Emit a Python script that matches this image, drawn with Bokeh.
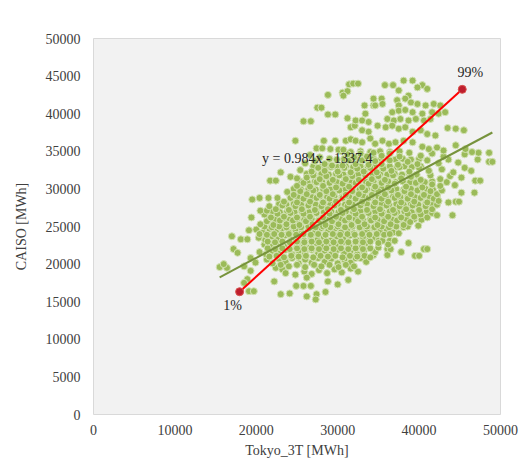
from bokeh.plotting import figure
from bokeh.models import Range1d, FixedTicker, NumeralTickFormatter, Label
from bokeh.embed import file_html
from bokeh.resources import INLINE

# Hourly generation pairs for August 2016: (Tokyo_3T MWh, CAISO MWh)
caiso_above_35k = [
    (31400, 43900), (31900, 44000), (32500, 44000), (28800, 42500), (30600, 42800), (31200, 43000),
    (30700, 42400), (27500, 40800), (28000, 40800), (28800, 39900), (29700, 39900), (25800, 39000),
    (26700, 39000), (31200, 39400), (31600, 38200), (32100, 38400), (24800, 36400), (28300, 36400),
    (29700, 36400), (31000, 36400), (31600, 36600), (27400, 35400), (28100, 35400), (29100, 35300),
    (30100, 35200), (30700, 35200), (33300, 41100), (34400, 41100),
    (35800, 43800), (36800, 43800), (38100, 44400), (39200, 44400), (40400, 43800),
    (34400, 42000), (35400, 42000), (37500, 43100), (38700, 42400), (39800, 43500), (41000, 43300),
    (34600, 41100), (35500, 41300), (37300, 41800), (37500, 41100), (38300, 42000), (39000, 41500),
    (39800, 41300), (40800, 41100), (41800, 41300), (42600, 41100),
    (32200, 39100), (33000, 39100), (33800, 38900), (33400, 40000), (36700, 40200), (37500, 40400),
    (38300, 40500), (39200, 40200), (40400, 40000), (41600, 40200), (42400, 40000), (43200, 40200),
    (36100, 39300), (36900, 39100), (37700, 39300), (38700, 39100), (39600, 39300), (40600, 39100),
    (41400, 39300),
    (34900, 38400), (35900, 38200), (36700, 38400), (37500, 38000), (38300, 38200), (39200, 37600),
    (40200, 37800), (41000, 37300), (42000, 37100), (43500, 38100), (44500, 38000), (45500, 37800),
    (33000, 37800), (33800, 37600),
    (32200, 36400), (33000, 36200), (34000, 36700), (34600, 36000), (35500, 36400), (36300, 36000),
    (37100, 36200), (38100, 36400), (39200, 36200), (40400, 35600), (41200, 35300), (42200, 35500),
    (43000, 35100), (44500, 35800), (45700, 35300), (46500, 34900),
]

caiso_15k_25k = [
    (19100, 16400), (19700, 16400), (23000, 16000), (24100, 16100), (26200, 15700), (27400, 16000),
    (27300, 15300), (28500, 16300),
    (18900, 18000), (18500, 17500), (22200, 17700), (24900, 17100), (25800, 17100), (26700, 17100),
    (28800, 17700), (30000, 17300), (31300, 17900),
    (15500, 19600), (16400, 19500), (19300, 19100), (18500, 19700), (22400, 19500), (23200, 19300),
    (23600, 18800), (24800, 18600), (25900, 19000), (26800, 18700), (27700, 19200), (28700, 18800),
    (29600, 19300), (30500, 18900), (31600, 19400), (32500, 19000), (26200, 18200),
    (16000, 20000), (19300, 20800), (19900, 20200), (21300, 20600), (22000, 20100), (22800, 20700),
    (23600, 20300), (24400, 20800), (25200, 20100), (26000, 20600), (26800, 20200), (27600, 20800),
    (28400, 20300), (29200, 20700), (30000, 20100), (30800, 20600), (31600, 20200), (32200, 20800),
    (32800, 20800), (33500, 20300),
    (17200, 22000), (17700, 21500), (20400, 21600), (21200, 21300), (22000, 21800), (22800, 21400),
    (23600, 21900), (24400, 21300), (25200, 21800), (26000, 21400), (26800, 21900), (27600, 21400),
    (28400, 21800), (29200, 21300), (30000, 21900), (30800, 21400), (31600, 21800), (32400, 21300),
    (33200, 21700), (34400, 21200), (34600, 21600), (36100, 22000), (36100, 21200), (36500, 22000),
    (37800, 21600), (39500, 21100), (40000, 21100), (40600, 22000), (41000, 22000),
    (21000, 22600), (21800, 22300), (22600, 22800), (23400, 22400), (24200, 22900), (25000, 22300),
    (25800, 22700), (26600, 22200), (27400, 22800), (28200, 22300), (29000, 22800), (29800, 22400),
    (30600, 22900), (31400, 22400), (32200, 22800), (33000, 22300), (33800, 22700), (38700, 22800),
    (17000, 23700), (18100, 23300), (18900, 23300), (20300, 23500), (21100, 23200), (21900, 23700),
    (22700, 23300), (23500, 23800), (24300, 23200), (25100, 23600), (25900, 23100), (26700, 23700),
    (27500, 23200), (28300, 23600), (29100, 23100), (29900, 23700), (30700, 23300), (31500, 23800),
    (32300, 23200), (33100, 23600), (33900, 23200), (34600, 23500), (35000, 23100), (35500, 23100),
    (36400, 23100), (37000, 23100),
    (19100, 24500), (20000, 24600), (20800, 24200), (21600, 24700), (22400, 24300), (23200, 24800),
    (24000, 24200), (24800, 24600), (25600, 24100), (26400, 24700), (27200, 24200), (28000, 24800),
    (28800, 24300), (29600, 24700), (30400, 24200), (31200, 24600), (32000, 24100), (32800, 24700),
    (33600, 24300), (34400, 24800), (35200, 24300), (36000, 24600), (36800, 24200), (37500, 24100),
]

caiso_25k_35k = [
    (20500, 25300), (21300, 25700), (22100, 25200), (22900, 25800), (23700, 25300), (24500, 25800),
    (25300, 25200), (26100, 25700), (26900, 25300), (27700, 25800), (28500, 25200), (29300, 25700),
    (30100, 25300), (30900, 25800), (31700, 25200), (32500, 25700), (33300, 25300), (34100, 25800),
    (34900, 25200), (35700, 25700), (36500, 25300), (37300, 25800), (38100, 25200), (38900, 25600),
    (39900, 25100),
    (19400, 26200), (21000, 26600), (21800, 26200), (22600, 26700), (23400, 26300), (24200, 26800),
    (25000, 26200), (25800, 26700), (26600, 26300), (27400, 26800), (28200, 26200), (29000, 26700),
    (29800, 26300), (30600, 26800), (31400, 26200), (32200, 26700), (33000, 26300), (33800, 26800),
    (34600, 26200), (35400, 26700), (36200, 26300), (37000, 26800), (37800, 26200), (38600, 26700),
    (39400, 26300), (40200, 26600), (41000, 26200), (41600, 26800), (42200, 26500), (44100, 26500),
    (20500, 27100), (21300, 27100), (21600, 27700), (22400, 27300), (23200, 27800), (24000, 27200),
    (24800, 27700), (25600, 27300), (26400, 27800), (27200, 27200), (28000, 27700), (28800, 27300),
    (29600, 27800), (30400, 27200), (31200, 27700), (32000, 27300), (32800, 27800), (33600, 27200),
    (34400, 27700), (35200, 27300), (36000, 27800), (36800, 27200), (37600, 27700), (38400, 27300),
    (39200, 27800), (40000, 27200), (40800, 27700), (41600, 27300), (42200, 27900),
    (19500, 28600), (20400, 28800), (21500, 28800), (22600, 28800), (23400, 28300), (24200, 28800),
    (25000, 28200), (25800, 28700), (26600, 28300), (27400, 28800), (28200, 28200), (29000, 28700),
    (29800, 28300), (30600, 28800), (31400, 28200), (32200, 28700), (33000, 28300), (33800, 28800),
    (34600, 28200), (35400, 28700), (36200, 28300), (37000, 28800), (37800, 28200), (38600, 28700),
    (39400, 28300), (40200, 28800), (41000, 28200), (41800, 28700), (42400, 28400), (43600, 28200),
    (44500, 28300), (44900, 28300),
    (23800, 29600), (24600, 29200), (25400, 29700), (26200, 29300), (27000, 29800), (27800, 29200),
    (28600, 29700), (29400, 29300), (30200, 29800), (31000, 29200), (31800, 29700), (32600, 29300),
    (33400, 29800), (34200, 29200), (35000, 29700), (35800, 29300), (36600, 29800), (37400, 29200),
    (38200, 29700), (39000, 29300), (39800, 29800), (40600, 29200), (41400, 29700), (42200, 29300),
    (42800, 29800), (45200, 29500), (46800, 29500),
    (21700, 31100), (22400, 31100), (25000, 30400), (25800, 30800), (26600, 30300), (27400, 30900),
    (28200, 30400), (29000, 30800), (29800, 30200), (30600, 30700), (31400, 30300), (32200, 30800),
    (33000, 30200), (33800, 30700), (34600, 30300), (35400, 30800), (36200, 30200), (37000, 30700),
    (38400, 30300), (39600, 30800), (40400, 30200), (41600, 30600), (42600, 30400), (43400, 30900),
    (44400, 30500),
    (24200, 31600), (25000, 31400), (26200, 31500), (27000, 31800), (27800, 31300), (28600, 31700),
    (29400, 31200), (30200, 31800), (31000, 31300), (31800, 31700), (32600, 31200), (33400, 31800),
    (34200, 31300), (35000, 31700), (35800, 31200), (36800, 31800), (37800, 31400), (39000, 31600),
    (40200, 31200), (41400, 31800), (42600, 31300), (43800, 31700), (45200, 31500), (46900, 31100),
    (47500, 31100),
    (23000, 32200), (25400, 32500), (26800, 32300), (27600, 32800), (28400, 32400), (29200, 32900),
    (30000, 32300), (30800, 32800), (31600, 32200), (32400, 32700), (33200, 32300), (34000, 32800),
    (34800, 32200), (35600, 32700), (36600, 32400), (37600, 32900), (38800, 32300), (40000, 32800),
    (41200, 32400), (42800, 32600), (44200, 32200), (45600, 32800), (46400, 32400),
    (26000, 33400), (27200, 33700), (28400, 33300), (29300, 33100), (30600, 33100), (31400, 33800),
    (32200, 33300), (33000, 33800), (33800, 33200), (34600, 33700), (35400, 33300), (36400, 33800),
    (37400, 33200), (38600, 33600), (39800, 33300), (41000, 33800), (42400, 33400), (43600, 33900),
    (44800, 33500), (47200, 33900), (48600, 33600), (49000, 33600),
    (26600, 34500), (27800, 34200), (31200, 34600), (32000, 34200), (32800, 34700), (33600, 34300),
    (34400, 34800), (35400, 34400), (36400, 34700), (37600, 34300), (38800, 34800), (40200, 34400),
    (41600, 34700), (43000, 34300), (45600, 34600), (47300, 34800), (48600, 34800),
]

# Heavily overlapping hours in the middle of the cloud
caiso_dense_core = [
    (23000, 19900), (24000, 19700), (25000, 19900), (26000, 19600), (27100, 19900), (28000, 19700),
    (29000, 19900), (30100, 19600), (31000, 19900), (32000, 19700),
    (21600, 21000), (22500, 21100), (23400, 20900), (24300, 21100), (25200, 21000), (26100, 21100),
    (27000, 20900), (27900, 21100), (28800, 21000), (29700, 21100), (30600, 20900), (31500, 21100),
    (32400, 21000), (33300, 21100), (34000, 20900),
    (21400, 22100), (22300, 22000), (23200, 22100), (24100, 22000), (25000, 22100), (25900, 22000),
    (26800, 22100), (27700, 22000), (28600, 22100), (29500, 22000), (30400, 22100), (31300, 22000),
    (32200, 22100), (33100, 22000), (34000, 22100), (35000, 22200),
    (21400, 23000), (22300, 22900), (23200, 23000), (24100, 22900), (25000, 23000), (25900, 22900),
    (26800, 23000), (27700, 22900), (28600, 23000), (29500, 22900), (30400, 23000), (31300, 22900),
    (32200, 23000), (33100, 22900), (34000, 23000), (35000, 22800), (36200, 22600),
    (20400, 24000), (21300, 23900), (22200, 24000), (23100, 23900), (24000, 24000), (24900, 23900),
    (25800, 24000), (26700, 23900), (27600, 24000), (28500, 23900), (29400, 24000), (30300, 23900),
    (31200, 24000), (32100, 23900), (33000, 24000), (33900, 23900), (34800, 24000), (35700, 23900),
    (36400, 24000),
    (21000, 25000), (21900, 24900), (22800, 25000), (23700, 24900), (24600, 25000), (25500, 24900),
    (26400, 25000), (27300, 24900), (28200, 25000), (29100, 24900), (30000, 25000), (30900, 24900),
    (31800, 25000), (32700, 24900), (33600, 25000), (34500, 24900), (35400, 25000), (36300, 24900),
    (37200, 25000), (38100, 24900), (38600, 25000),
    (21400, 26000), (22300, 25900), (23200, 26000), (24100, 25900), (25000, 26000), (25900, 25900),
    (26800, 26000), (27700, 25900), (28600, 26000), (29500, 25900), (30400, 26000), (31300, 25900),
    (32200, 26000), (33100, 25900), (34000, 26000), (34900, 25900), (35800, 26000), (36700, 25900),
    (37600, 26000), (38500, 25900), (39400, 26000), (40300, 25900),
    (22000, 27000), (22900, 26900), (23800, 27000), (24700, 26900), (25600, 27000), (26500, 26900),
    (27400, 27000), (28300, 26900), (29200, 27000), (30100, 26900), (31000, 27000), (31900, 26900),
    (32800, 27000), (33700, 26900), (34600, 27000), (35500, 26900), (36400, 27000), (37300, 26900),
    (38200, 27000), (39100, 26900), (40000, 27000), (40900, 26900),
    (22800, 28000), (23700, 27900), (24600, 28000), (25500, 27900), (26400, 28000), (27300, 27900),
    (28200, 28000), (29100, 27900), (30000, 28000), (30900, 27900), (31800, 28000), (32700, 27900),
    (33600, 28000), (34500, 27900), (35400, 28000), (36300, 27900), (37200, 28000), (38100, 27900),
    (39000, 28000), (39900, 27900), (40800, 28000), (41700, 27900),
    (24200, 29000), (25100, 28900), (26000, 29000), (26900, 28900), (27800, 29000), (28700, 28900),
    (29600, 29000), (30500, 28900), (31400, 29000), (32300, 28900), (33200, 29000), (34100, 28900),
    (35000, 29000), (35900, 28900), (36800, 29000), (37700, 28900), (38600, 29000), (39500, 28900),
    (40400, 29000), (41300, 28900), (42200, 29000),
    (24600, 30000), (25500, 29900), (26400, 30000), (27300, 29900), (28200, 30000), (29100, 29900),
    (30000, 30000), (30900, 29900), (31800, 30000), (32700, 29900), (33600, 30000), (34500, 29900),
    (35400, 30000), (36300, 29900), (37200, 30000), (38100, 29900), (39000, 30000), (39900, 29900),
    (40800, 30000), (41700, 29900),
    (25400, 31000), (26300, 30900), (27200, 31000), (28100, 30900), (29000, 31000), (29900, 30900),
    (30800, 31000), (31700, 30900), (32600, 31000), (33500, 30900), (34400, 31000), (35300, 30900),
    (36200, 31000), (37100, 30900), (38000, 31000), (38900, 30900), (39800, 31000), (40700, 30900),
    (41600, 31000),
    (26200, 32000), (27100, 31900), (28000, 32000), (28900, 31900), (29800, 32000), (30700, 31900),
    (31600, 32000), (32500, 31900), (33400, 32000), (34300, 31900), (35200, 32000), (36100, 31900),
    (37000, 32000), (37900, 31900), (38800, 32000), (39700, 31900),
    (27000, 33000), (27900, 32900), (28800, 33000), (30000, 32900), (31000, 33000), (31900, 32900),
    (32800, 33000), (33700, 32900), (34600, 33000), (35500, 32900), (36400, 33000), (37300, 32900),
    (38200, 33000), (39100, 32900), (40200, 33000),
    (29000, 34000), (29900, 33900), (30800, 34000), (31700, 33900), (32600, 34000), (33500, 33900),
    (34400, 34000), (35300, 33900), (36200, 34000), (37100, 33900), (38000, 34000), (39000, 33900),
    (40000, 34000),
    (30400, 35000), (31600, 34900), (32800, 35000), (34000, 34900), (35200, 35000), (36400, 34900),
    (37600, 35000),
]

# Linear trend of the hourly cloud (end points)
trend_tokyo = [15500, 49000]
trend_caiso = [18250, 37500]

# 1st and 99th percentile points, joined by y = 0.984x - 1337.4
pct_labels = ["1%", "99%"]
pct_tokyo = [17950, 45300]
slope, intercept = 0.984, -1337.4
pct_caiso = [slope * x + intercept for x in pct_tokyo]

x_ticks = [0, 10000, 20000, 30000, 40000, 50000]
y_ticks = [0, 5000, 10000, 15000, 20000, 25000, 30000, 35000, 40000, 45000, 50000]

hours = caiso_15k_25k + caiso_dense_core + caiso_25k_35k + caiso_above_35k
tokyo_mwh = [h[0] for h in hours]
caiso_mwh = [h[1] for h in hours]

SERIF = "'Liberation Serif', 'Times New Roman', serif"

p = figure(width=524, height=466, output_backend="svg", toolbar_location=None,
           x_range=Range1d(0, 50000), y_range=Range1d(0, 50000),
           min_border_left=93, min_border_right=24, min_border_top=38, min_border_bottom=52,
           background_fill_color="#f2f2f2", border_fill_color="white")
p.outline_line_color = "#d9d9d9"
p.xgrid.grid_line_color = None
p.ygrid.grid_line_color = None

for ax in (p.xaxis[0], p.yaxis[0]):
    ax.axis_line_color = None
    ax.major_tick_line_color = None
    ax.minor_tick_line_color = None
    ax.major_tick_out = 0
    ax.major_tick_in = 0
    ax.formatter = NumeralTickFormatter(format="0")
    ax.major_label_text_font = SERIF
    ax.major_label_text_font_size = "14px"
    ax.major_label_text_color = "#404040"
    ax.axis_label_text_font = SERIF
    ax.axis_label_text_font_size = "14px"
    ax.axis_label_text_font_style = "normal"
    ax.axis_label_text_color = "#404040"

p.xaxis.ticker = FixedTicker(ticks=x_ticks)
p.yaxis.ticker = FixedTicker(ticks=y_ticks)
p.xaxis.axis_label = "Tokyo_3T [MWh]"
p.yaxis.axis_label = "CAISO [MWh]"
p.xaxis.major_label_standoff = 10
p.xaxis.axis_label_standoff = 5
p.yaxis.major_label_standoff = 13
p.yaxis.axis_label_standoff = 14

p.scatter(tokyo_mwh, caiso_mwh, marker="circle", size=7,
          fill_color="#9bbb59", line_color="#d4e3b5", line_width=1)

p.line(trend_tokyo, trend_caiso, line_color="#77933c", line_width=2)
p.line(pct_tokyo, pct_caiso, line_color="#ff0000", line_width=2)
p.scatter(pct_tokyo, pct_caiso, marker="circle", size=8,
          fill_color="#be1e2d", line_color="#d9534f", line_width=1)

p.add_layout(Label(x=pct_tokyo[0], y=pct_caiso[0], text=pct_labels[0], x_offset=-7, y_offset=-14,
                   text_align="center", text_baseline="middle", text_font=SERIF,
                   text_font_size="14px", text_color="#262626"))
p.add_layout(Label(x=pct_tokyo[1], y=pct_caiso[1], text=pct_labels[1], x_offset=8, y_offset=17,
                   text_align="center", text_baseline="middle", text_font=SERIF,
                   text_font_size="14px", text_color="#262626"))
p.add_layout(Label(x=20700, y=34000, text="y = 0.984x - 1337.4",
                   text_align="left", text_baseline="middle", text_font=SERIF,
                   text_font_size="14px", text_color="#262626"))
p.add_layout(Label(x=49140, y=52660, text="Aug., 2016",
                   text_align="right", text_baseline="middle", text_font=SERIF,
                   text_font_size="16px", text_color="#262626"))

open("out.html", "w").write(file_html(p, INLINE))
